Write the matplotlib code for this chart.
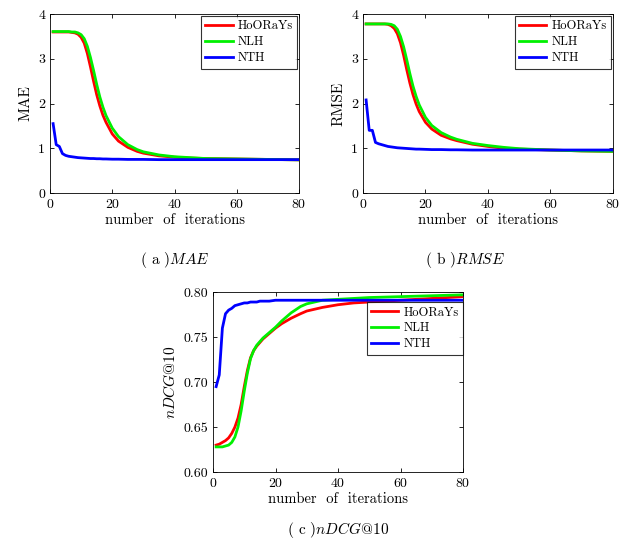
import matplotlib
matplotlib.use('Agg')
import matplotlib.pyplot as plt

plt.rcParams['font.family'] = 'serif'
plt.rcParams['font.serif'] = ['cmr10', 'DejaVu Serif']
plt.rcParams['mathtext.fontset'] = 'cm'
plt.rcParams['axes.formatter.use_mathtext'] = True

# iterations sampled along every curve
ITERS = [1, 2, 3, 4, 5, 6, 7, 8, 9, 10, 11, 12, 13, 14, 15, 16, 17, 18,
         20, 22, 25, 28, 30, 35, 40, 45, 50, 60, 70, 80]
METHODS = ['HoORaYs', 'NLH', 'NTH']
COLORS = ['#ff0000', '#00f000', '#0000ff']

mae_hooray = [3.60, 3.60, 3.60, 3.60, 3.60, 3.60, 3.59, 3.58, 3.55, 3.48, 3.35, 3.12, 2.82, 2.50, 2.20,
              1.95, 1.74, 1.58, 1.32, 1.16, 1.02, 0.93, 0.89, 0.83, 0.80, 0.78, 0.77, 0.76, 0.75, 0.74]
mae_nlh = [3.61, 3.61, 3.61, 3.61, 3.61, 3.61, 3.60, 3.60, 3.58, 3.54, 3.45, 3.28, 3.03, 2.74, 2.43,
           2.15, 1.92, 1.73, 1.45, 1.26, 1.08, 0.97, 0.92, 0.85, 0.81, 0.79, 0.77, 0.76, 0.75, 0.74]
mae_nth = [1.55, 1.08, 1.04, 0.88, 0.84, 0.82, 0.81, 0.80, 0.79, 0.785, 0.78, 0.775, 0.77, 0.77, 0.765,
           0.765, 0.76, 0.76, 0.755, 0.755, 0.75, 0.75, 0.75, 0.745, 0.745, 0.745, 0.745, 0.745, 0.745, 0.745]

rmse_hooray = [3.78, 3.78, 3.78, 3.78, 3.78, 3.78, 3.78, 3.77, 3.74, 3.68, 3.56, 3.36, 3.08, 2.76, 2.46,
               2.20, 1.99, 1.82, 1.58, 1.43, 1.29, 1.21, 1.17, 1.09, 1.04, 1.00, 0.98, 0.96, 0.94, 0.93]
rmse_nlh = [3.78, 3.78, 3.78, 3.78, 3.78, 3.78, 3.78, 3.78, 3.77, 3.74, 3.66, 3.50, 3.27, 2.98, 2.67,
            2.39, 2.16, 1.97, 1.69, 1.51, 1.35, 1.25, 1.20, 1.11, 1.06, 1.02, 0.99, 0.96, 0.94, 0.93]
rmse_nth = [2.08, 1.40, 1.40, 1.13, 1.10, 1.08, 1.06, 1.04, 1.03, 1.02, 1.01, 1.005, 1.0, 0.995, 0.99,
            0.985, 0.98, 0.98, 0.975, 0.97, 0.97, 0.965, 0.965, 0.96, 0.96, 0.96, 0.96, 0.96, 0.96, 0.96]

ndcg_hooray = [0.630, 0.631, 0.633, 0.635, 0.638, 0.643, 0.650, 0.660, 0.675, 0.695, 0.713, 0.727, 0.735, 0.740, 0.744,
               0.748, 0.751, 0.754, 0.760, 0.765, 0.771, 0.776, 0.779, 0.783, 0.786, 0.788, 0.789, 0.791, 0.793, 0.795]
ndcg_nlh = [0.628, 0.628, 0.628, 0.629, 0.630, 0.633, 0.639, 0.650, 0.668, 0.690, 0.710, 0.726, 0.735, 0.741, 0.745,
            0.749, 0.752, 0.755, 0.761, 0.768, 0.777, 0.784, 0.787, 0.791, 0.792, 0.793, 0.794, 0.795, 0.796, 0.797]
ndcg_nth = [0.695, 0.708, 0.760, 0.776, 0.780, 0.782, 0.785, 0.786, 0.787, 0.788, 0.788, 0.789, 0.789, 0.789, 0.790,
            0.790, 0.790, 0.790, 0.791, 0.791, 0.791, 0.791, 0.791, 0.791, 0.791, 0.791, 0.791, 0.791, 0.791, 0.791]


def style_axes(ax, ylim, yticks, yfmt):
    ax.set_xlim(0, 80)
    ax.set_xticks([0, 20, 40, 60, 80])
    ax.set_ylim(*ylim)
    ax.set_yticks(yticks)
    ax.set_yticklabels([yfmt.format(v) for v in yticks])
    ax.tick_params(direction='in', top=True, right=True, labelsize=10, length=3, width=0.6)
    for sp in ax.spines.values():
        sp.set_linewidth(0.6)
    ax.set_xlabel('number  of  iterations', fontsize=10.5, labelpad=2)


def draw_lines(ax, series):
    for ys, name, col in zip(series, METHODS, COLORS):
        ax.plot(ITERS, ys, color=col, lw=2.0, label=name)


def add_legend(ax, **kw):
    leg = ax.legend(fontsize=9, frameon=True, fancybox=False, edgecolor='black',
                    handlelength=2.2, handletextpad=0.4, labelspacing=0.3,
                    borderpad=0.35, **kw)
    leg.get_frame().set_linewidth(0.8)


fig = plt.figure(figsize=(6.21, 5.42), dpi=100)

ax1 = fig.add_axes([0.0805, 0.644, 0.401, 0.330])
draw_lines(ax1, [mae_hooray, mae_nlh, mae_nth])
style_axes(ax1, (0, 4), [0, 1, 2, 3, 4], '{:g}')
ax1.set_ylabel('MAE', fontsize=11, labelpad=4)
add_legend(ax1, loc='upper right', borderaxespad=0.15)

ax2 = fig.add_axes([0.5845, 0.644, 0.4026, 0.330])
draw_lines(ax2, [rmse_hooray, rmse_nlh, rmse_nth])
style_axes(ax2, (0, 4), [0, 1, 2, 3, 4], '{:g}')
ax2.set_ylabel('RMSE', fontsize=11, labelpad=4)
add_legend(ax2, loc='upper right', borderaxespad=0.15)

ax3 = fig.add_axes([0.343, 0.129, 0.4026, 0.332])
draw_lines(ax3, [ndcg_hooray, ndcg_nlh, ndcg_nth])
style_axes(ax3, (0.60, 0.80), [0.60, 0.65, 0.70, 0.75, 0.80], '{:.2f}')
ax3.set_ylabel(r'$nDCG$@10', fontsize=11, labelpad=4)
add_legend(ax3, loc='upper right', bbox_to_anchor=(1.0, 0.945), borderaxespad=0.0)

fig.text(0.282, 0.521, r'( a )$MAE$', ha='center', va='center', fontsize=11)
fig.text(0.749, 0.521, r'( b )$RMSE$', ha='center', va='center', fontsize=11)
fig.text(0.545, 0.022, r'( c )$nDCG$@10', ha='center', va='center', fontsize=11)

fig.savefig('out.png', dpi=100)
